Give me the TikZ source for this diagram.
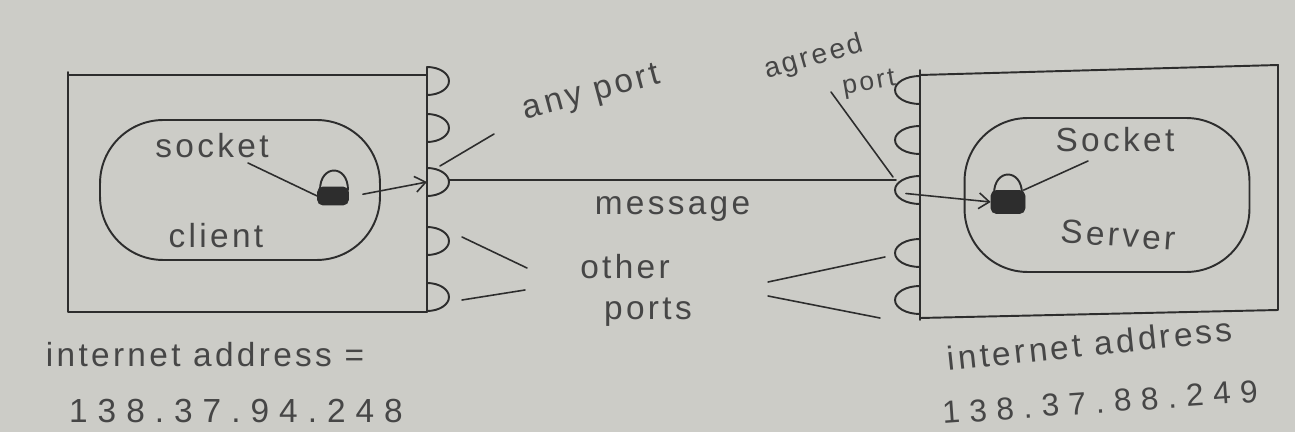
\documentclass[tikz,border=0pt]{standalone}
\usepackage{fontspec}
\setmainfont{Liberation Sans}[LetterSpace=10]
\usetikzlibrary{arrows.meta}
\definecolor{paper}{RGB}{204,204,199}
\definecolor{ink}{RGB}{45,45,45}
\definecolor{pencil}{RGB}{70,70,70}
\begin{document}
\begin{tikzpicture}[x=0.02cm,y=-0.02cm,
  ln/.style={draw=ink,line width=1.1pt,line cap=round,line join=round},
  thin/.style={draw=ink,line width=0.9pt,line cap=round},
  lbl/.style={text=pencil,font=\fontsize{19}{21}\selectfont,inner sep=1pt},
  num/.style={text=pencil,font=\fontsize{19}{21}\selectfont\addfontfeature{LetterSpace=30},inner sep=1pt},
  proc/.style={draw=ink,line width=1.1pt,rounded corners=36pt,inner sep=0pt},
  sockbody/.style={fill=ink,draw=ink,rounded corners=3pt,inner sep=0pt},
  arr/.style={thin,-{Straight Barb[length=6pt,width=9pt]}}]
\fill[paper] (0,0) rectangle (1295,432);
\useasboundingbox (0,0) rectangle (1295,432);

% ---- left host ----
\draw[ln] (68,72) -- (68,312) -- (427,312);
\draw[ln] (68,75) -- (427,75);
\draw[ln] (427,67) -- (427,312);
\foreach \yy/\nm in {81/lpa,128/lpb,182/lpc,241/lpd,297/lpe}{
  \draw[ln] (427,\yy-14) arc[start angle=-90,end angle=90,x radius=22,y radius=14];
  \coordinate (\nm) at (427,\yy);
}
\coordinate (msgStart) at (449,180);
\coordinate (anyEnd) at (440,166);
\node[proc,minimum width=5.6cm,minimum height=2.8cm] (client) at (240,190) {};
\node[lbl] (sockLabL) at (212,146) {socket};
\node[lbl] (clientLab) at (216,236) {client};
\node[sockbody,minimum width=0.62cm,minimum height=0.36cm] (sockL) at (333,196) {};
\draw[ln] (320,190) .. controls (320,164) and (348,164) .. (348,190);
\coordinate (sockTipL) at (248,163);
\draw[thin] (sockTipL) -- (sockL.west);
\draw[arr] ([xshift=8pt,yshift=1pt]sockL.east) -- (lpc);

% ---- right host ----
\draw[ln] (920,75) -- (1278,65) -- (1278,310) -- (920,318);
\draw[ln] (920,70) -- (920,320);
\foreach \yy/\nm in {90/rpa,140/rpb,190/rpc,253/rpd,300/rpe}{
  \draw[ln] (920,\yy-14) arc[start angle=-90,end angle=-270,x radius=25,y radius=14];
  \coordinate (\nm) at (920,\yy);
}
\coordinate (msgEnd) at (896,180);
\coordinate (agrEnd) at (893,177);
\node[proc,minimum width=5.7cm,minimum height=3.08cm] (server) at (1107,195) {};
\node[lbl] (sockLabR) at (1115,140) {Socket};
\node[lbl,rotate=-4] (serverLab) at (1118,235) {Server};
\node[sockbody,minimum width=0.68cm,minimum height=0.46cm] (sockR) at (1008,202) {};
\draw[ln] (994,194) .. controls (994,168) and (1022,168) .. (1022,194);
\coordinate (sockTipR) at (1088,161);
\draw[thin] (sockTipR) -- ([xshift=-1pt]sockR.north east);
\draw[arr] ([xshift=-8pt,yshift=-2pt]rpc) -- (sockR.west);

% ---- between ----
\draw[thin] (msgStart) -- node[lbl,below=8pt] (msgLab) {message} (msgEnd);
\node[lbl,rotate=15] (anyLab) at (592,94) {any port};
\coordinate (anyTip) at (494,134);
\draw[thin] (anyTip) -- (anyEnd);
\node[lbl,rotate=16,font=\fontsize{16}{18}\selectfont] (agrLab) at (814,58) {agreed};
\node[lbl,rotate=10,font=\fontsize{15}{17}\selectfont] (portLab) at (869,84) {port};
\coordinate (agrTip) at (831,92);
\draw[thin] (agrTip) -- (agrEnd);
\node[lbl] (otherLab) at (625,267) {other};
\node[lbl] (portsLab) at (648,312) {ports};
\draw[thin] (462,237) -- (527,268);
\draw[thin] (462,300) -- (525,290);
\draw[thin] (768,282) -- (885,257);
\draw[thin] (768,296) -- (880,318);

% ---- addresses ----
\node[lbl,rotate=6] (addrR) at (1090,344) {internet address};
\node[lbl] (addrL) at (205,355) {internet address =};
\node[num] (ipL) at (236,411) {138.37.94.248};
\node[num,rotate=4,font=\fontsize{18}{20}\selectfont\addfontfeature{LetterSpace=30}] (ipR) at (1100,402) {138.37.88.249};
\end{tikzpicture}
\end{document}
